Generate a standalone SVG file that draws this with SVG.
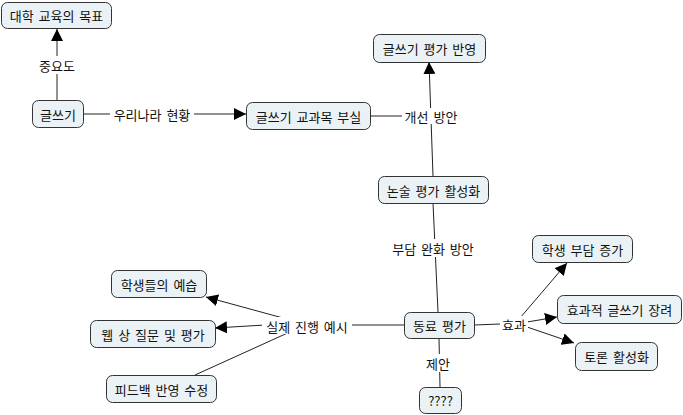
<svg xmlns="http://www.w3.org/2000/svg" width="683" height="415" viewBox="0 0 683 415">
<style>
.n rect{fill:#ebf2f5;stroke:#333;stroke-width:1}
text{font-family:"Noto Sans CJK KR","Noto Sans",sans-serif;font-size:13px;word-spacing:2px;fill:#111;text-anchor:middle;dominant-baseline:central}
.c line{stroke:#222;stroke-width:1}
.a{marker-end:url(#ar)}
.lb{fill:#fff}
</style>
<defs>
<marker id="ar" viewBox="0 0 10 10" refX="10" refY="5" markerWidth="12" markerHeight="12" markerUnits="userSpaceOnUse" orient="auto">
<path d="M0,0 L10,5 L0,10 z" fill="#000"/>
</marker>
</defs>
<rect width="683" height="415" fill="#fff"/>
<g class="c">
<line x1="57" y1="100" x2="57" y2="29" class="a"/>
<line x1="83" y1="114" x2="246" y2="114" class="a"/>
<line x1="370" y1="116" x2="412" y2="116"/>
<line x1="433" y1="176" x2="429" y2="62" class="a"/>
<line x1="433" y1="203" x2="438" y2="312"/>
<line x1="474" y1="325" x2="500" y2="324"/>
<line x1="520" y1="318" x2="567" y2="263" class="a"/>
<line x1="527" y1="322" x2="557" y2="317" class="a"/>
<line x1="527" y1="327" x2="574" y2="343" class="a"/>
<line x1="439" y1="338" x2="440" y2="387"/>
<line x1="404" y1="325" x2="350" y2="325"/>
<line x1="283" y1="318" x2="206" y2="297" class="a"/>
<line x1="265" y1="325" x2="215" y2="328" class="a"/>
<line x1="292" y1="331" x2="195" y2="375"/>
<rect x="36" y="56" width="42" height="18" class="lb"/>
<text x="57" y="65">중요도</text>
<rect x="110" y="106" width="84" height="16" class="lb"/>
<text x="152" y="114">우리나라 현황</text>
<rect x="402" y="108" width="58" height="16" class="lb"/>
<text x="431" y="116">개선 방안</text>
<rect x="386" y="239" width="94" height="18" class="lb"/>
<text x="433" y="248">부담 완화 방안</text>
<rect x="500" y="316" width="28" height="16" class="lb"/>
<text x="514" y="324">효과</text>
<rect x="424" y="354" width="28" height="18" class="lb"/>
<text x="438" y="363">제안</text>
<rect x="262" y="317" width="90" height="17" class="lb"/>
<text x="307" y="326">실제 진행 예시</text>
</g>
<g id="n1" class="n"><rect x="1.5" y="2.5" width="110" height="26" rx="6"/><text x="56.5" y="15.5">대학 교육의 목표</text></g>
<g id="n2" class="n"><rect x="32.5" y="100.5" width="51" height="27" rx="6"/><text x="58" y="114">글쓰기</text></g>
<g id="n3" class="n"><rect x="246.5" y="102.5" width="124" height="27" rx="6"/><text x="308.5" y="116">글쓰기 교과목 부실</text></g>
<g id="n4" class="n"><rect x="373.5" y="34.5" width="112" height="28" rx="6"/><text x="429.5" y="48.5">글쓰기 평가 반영</text></g>
<g id="n5" class="n"><rect x="378.5" y="176.5" width="110" height="27" rx="6"/><text x="433.5" y="190">논술 평가 활성화</text></g>
<g id="n6" class="n"><rect x="404.5" y="312.5" width="70" height="26" rx="6"/><text x="439.5" y="325.5">동료 평가</text></g>
<g id="n7" class="n"><rect x="532.5" y="235.5" width="100" height="27" rx="6"/><text x="582.5" y="249">학생 부담 증가</text></g>
<g id="n8" class="n"><rect x="557.5" y="295.5" width="124" height="28" rx="6"/><text x="619.5" y="309.5">효과적 글쓰기 장려</text></g>
<g id="n9" class="n"><rect x="575.5" y="342.5" width="82" height="28" rx="6"/><text x="616.5" y="356.5">토론 활성화</text></g>
<g id="n10" class="n"><rect x="419.5" y="387.5" width="42" height="26" rx="6"/><text x="440.5" y="400.5">????</text></g>
<g id="n11" class="n"><rect x="111.5" y="270.5" width="95" height="27" rx="6"/><text x="159" y="284">학생들의 예습</text></g>
<g id="n12" class="n"><rect x="90.5" y="320.5" width="125" height="27" rx="6"/><text x="153" y="334">웹 상 질문 및 평가</text></g>
<g id="n13" class="n"><rect x="106.5" y="375.5" width="110" height="27" rx="6"/><text x="161.5" y="389">피드백 반영 수정</text></g>
</svg>
